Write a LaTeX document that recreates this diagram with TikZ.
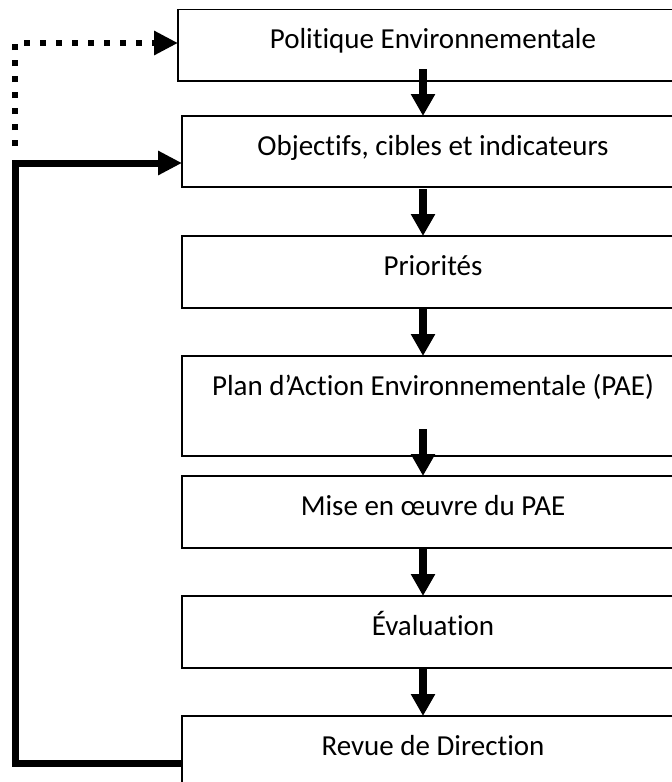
\documentclass[tikz,border=0pt]{standalone}
\usepackage{fontspec}
\setmainfont{Carlito}[Ligatures=NoCommon]
\usetikzlibrary{arrows.meta,calc}
\begin{document}
\begin{tikzpicture}[x=1pt,y=-1pt,
  box/.style={draw=black,line width=1.5pt,rectangle,anchor=north west,
    minimum height=#1,minimum width=502pt,inner sep=0pt,outer sep=0pt},
  lbl/.style={anchor=base,font=\fontsize{29}{34}\selectfont,inner sep=0pt},
  varrow/.style={line width=8pt,-{Triangle[width=23pt,length=22pt]}},
  harrow/.style={line width=7pt,line join=miter,-{Triangle[width=23pt,length=24pt]}},
  dotarrow/.style={line width=6pt,dash pattern=on 6pt off 10pt,line join=miter,
    -{Triangle[width=23pt,length=24pt]}}]
\useasboundingbox (0,0) rectangle (672,782);
\clip (0,0) rectangle (672,782);
% boxes
\node[box=71.5pt,minimum width=506pt] (b1) at (178,9.5) {};
\node[box=71pt] (b2) at (182,116) {};
\node[box=72pt] (b3) at (182,236) {};
\node[box=100pt] (b4) at (182,356) {};
\node[box=72pt] (b5) at (182,476) {};
\node[box=72pt] (b6) at (182,596) {};
\node[box=72pt] (b7) at (182,716) {};
% labels
\node[lbl] (t1) at (433,48.5) {Politique Environnementale};
\node[lbl] (t2) at (433,155) {Objectifs, cibles et indicateurs};
\node[lbl] (t3) at (433,275) {Priorités};
\node[lbl] (t4) at (433,395) {Plan d’Action Environnementale (PAE)};
\node[lbl] (t5) at (433,515) {Mise en œuvre du PAE};
\node[lbl] (t6) at (433,635) {Évaluation};
\node[lbl] (t7) at (433,755) {Revue de Direction};
% vertical arrows
\coordinate (ax) at (423,0);
\draw[varrow] ($(b2.north -| ax)+(0,-47)$) -- (b2.north -| ax);
\draw[varrow] ($(b3.north -| ax)+(0,-47)$) -- (b3.north -| ax);
\draw[varrow] ($(b4.north -| ax)+(0,-47)$) -- (b4.north -| ax);
\draw[varrow] ($(b5.north -| ax)+(0,-47)$) -- (b5.north -| ax);
\draw[varrow] ($(b6.north -| ax)+(0,-47)$) -- (b6.north -| ax);
\draw[varrow] ($(b7.north -| ax)+(0,-47)$) -- (b7.north -| ax);
% feedback loops
\coordinate (c1) at (15,763);
\coordinate (c2) at (15,163);
\draw[harrow] ($(b7.north west)+(0,47)$) -- (c1) -- (c2) -- ($(b2.north west)+(0,47)$);
\coordinate (d1) at (15,146);
\coordinate (d2) at (15,43);
\draw[dotarrow] (d1) -- (d2) -- ($(b1.north west)+(0,33.5)$);
\end{tikzpicture}
\end{document}
